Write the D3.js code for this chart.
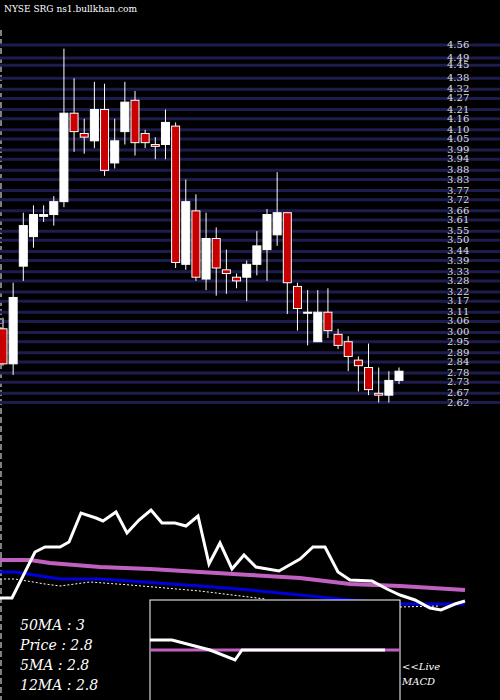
<!DOCTYPE html>
<html><head><meta charset="utf-8">
<script src="https://cdn.jsdelivr.net/npm/d3@7"></script>
<style>body{margin:0;background:#000}svg{display:block}</style>
</head><body>
<script>
const opens  =[3.02,2.83,3.36,3.52,3.63,3.64,3.71,4.19,4.08,4.04,4.21,3.92,4.09,4.26,4.08,4.02,4.02,4.12,3.37,3.66,3.29,3.51,3.34,3.30,3.30,3.37,3.45,3.53,3.65,3.25,3.11,2.95,3.11,2.99,2.95,2.85,2.81,2.67,2.66,2.74];
const highs  =[3.08,3.27,3.65,3.69,3.69,3.74,4.54,4.38,4.16,4.36,4.35,4.16,4.36,4.31,4.10,4.06,4.21,4.14,3.83,3.75,3.65,3.57,3.45,3.32,3.39,3.55,3.67,3.87,3.65,3.27,3.23,3.23,3.24,3.02,2.98,2.87,2.94,2.81,2.79,2.81];
const lows   =[2.82,2.77,3.28,3.46,3.60,3.58,3.68,3.98,3.97,4.00,3.85,3.89,4.02,3.96,4.00,3.94,3.94,3.35,3.34,3.28,3.23,3.20,3.21,3.24,3.17,3.31,3.28,3.47,3.10,3.01,2.93,2.95,2.97,2.91,2.79,2.68,2.66,2.62,2.62,2.72];
const closes =[2.83,3.19,3.58,3.64,3.64,3.71,4.19,4.09,4.06,4.21,3.88,4.04,4.25,4.03,4.03,4.01,4.14,3.38,3.71,3.30,3.51,3.35,3.32,3.28,3.37,3.47,3.64,3.65,3.27,3.13,3.11,3.11,3.01,2.93,2.87,2.82,2.69,2.66,2.74,2.79];
const tickLabels=[4.56,4.49,4.45,4.38,4.32,4.27,4.21,4.16,4.10,4.05,3.99,3.94,3.88,3.83,3.77,3.72,3.66,3.61,3.55,3.50,3.44,3.39,3.33,3.28,3.22,3.17,3.11,3.06,3.00,2.95,2.89,2.84,2.78,2.73,2.67,2.62];
// lower panel (indicator units 0-100, x as position index 0-46.5)
const whiteX=[0,1.2,3.5,4.5,6,6.9,8.1,9.6,10.3,11.6,12.7,13.9,15.1,16.2,17.5,18.6,19.8,20.9,22,23.2,24.4,25.6,27.9,30,31.3,32.5,33.8,35,37.2,38.7,40,41.5,43,44.1,45.5,46.5];
const whiteV=[22,22,68,73,73,78,107,102,99,108,87,100,110,97,97,94,104,56,77,51,65,53,49,61,73,73,48,40,39,31,25,20,12,10,16,19];
const purpleX=[0,3,5,10,15,20,25,30,35,40,46.5];
const purpleV=[60,60,57,53,51,48,45,42,36,34,30];
const blueX=[0,1.5,6,10,13,20,25,30,35,40,46.5];
const blueV=[48,48,41,41,39,34,30,25,20,16,16];
const dotX=[0,1.5,4.5,6,9,13,20,26.5];
const dotV=[41,41,36,34,38,35,29,21];
const dot2X=[40,44];
const dot2V=[13,14];
const macdX=[15,17.2,21,23.5,24.2,38.5];
const macdV=[60,60,50,40,50,50];
const signalX=[15,40];
const signalV=[50,50];
const infoLines=["50MA : 3","Price   : 2.8","5MA : 2.8","12MA : 2.8"];

const W=500,H=700;
const svg=d3.select("body").append("svg").attr("width",W).attr("height",H).style("background","#000");
const y=d3.scaleLinear().domain([2.65,4.56]).range([397,45]);
const x=d3.scaleLinear().domain([0,39]).range([3,399]);

svg.append("text").attr("x",4).attr("y",12).attr("fill","#fff").attr("font-family","DejaVu Serif").attr("font-size",9).text("NYSE SRG ns1.bullkhan.com");
svg.append("line").attr("x1",1).attr("x2",1).attr("y1",30).attr("y2",700).attr("stroke","#fff").attr("stroke-dasharray","6,3");

svg.selectAll(".g").data(tickLabels).join("line").attr("x1",0).attr("x2",W).attr("y1",d=>y(d)).attr("y2",d=>y(d)).attr("stroke","#1c1c4e").attr("stroke-width",3);
svg.selectAll(".t").data(tickLabels).join("text").attr("x",447).attr("y",d=>y(d)+3).attr("fill","#ddd").attr("font-family","DejaVu Serif").attr("font-size",10).text(d=>d.toFixed(2));

const idx=d3.range(opens.length);
svg.selectAll(".w").data(idx).join("line").attr("x1",i=>x(i)).attr("x2",i=>x(i)).attr("y1",i=>y(highs[i])).attr("y2",i=>y(lows[i])).attr("stroke","#fff").attr("stroke-width",1);
svg.selectAll(".b").data(idx).join("rect")
 .attr("x",i=>x(i)-4).attr("width",8)
 .attr("y",i=>y(Math.max(opens[i],closes[i])))
 .attr("height",i=>Math.max(1,Math.abs(y(opens[i])-y(closes[i]))))
 .attr("fill",i=>closes[i]<opens[i]?"#c80000":"#fff").attr("stroke","#fff").attr("stroke-width",1);

const lx=d3.scaleLinear().domain([0,46.5]).range([0,465]);
const ly=d3.scaleLinear().domain([0,100]).range([620,520]);
function path(xs,vs,col,w,dash,yy){const g=d3.line().x((d,i)=>lx(xs[i])).y(d=>(yy||ly)(d));
 const p=svg.append("path").attr("d",g(vs)).attr("fill","none").attr("stroke",col).attr("stroke-width",w);if(dash)p.attr("stroke-dasharray",dash);}
path(purpleX,purpleV,"#c060c0",4);
path(blueX,blueV,"#0000dd",3);
path(dotX,dotV,"#fff",1,"2,2");
path(dot2X,dot2V,"#fff",1,"2,2");
path(whiteX,whiteV,"#fff",3);
svg.append("rect").attr("x",150).attr("y",600).attr("width",250).attr("height",102).attr("fill","#000").attr("stroke","#fff").attr("stroke-width",1);
const my=d3.scaleLinear().domain([0,100]).range([700,600]);
path(signalX,signalV,"#c060c0",3,null,my);
path(macdX,macdV,"#fff",3,null,my);
svg.selectAll(".info").data(infoLines).join("text").attr("x",20).attr("y",(d,i)=>630+i*20).attr("fill","#fff").attr("font-family","DejaVu Serif").attr("font-style","italic").attr("font-size",14).text(d=>d);
svg.append("text").attr("x",402).attr("y",670).attr("fill","#fff").attr("font-family","DejaVu Serif").attr("font-style","italic").attr("font-size",10).text("<<Live");
svg.append("text").attr("x",402).attr("y",685).attr("fill","#fff").attr("font-family","DejaVu Serif").attr("font-style","italic").attr("font-size",10).text("MACD");
</script></body></html>
